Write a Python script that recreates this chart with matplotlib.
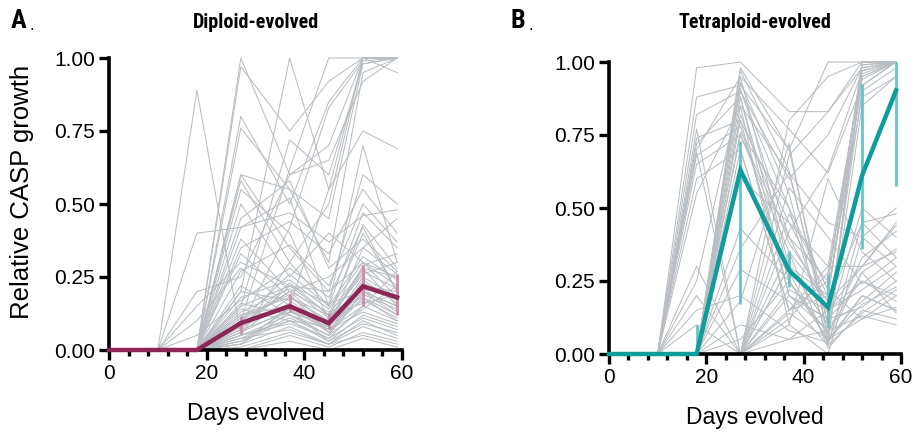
import matplotlib
matplotlib.use("Agg")
import matplotlib.pyplot as plt
from matplotlib.ticker import MultipleLocator, FormatStrFormatter
from matplotlib import font_manager
from matplotlib.font_manager import FontProperties

plt.rcParams['font.family'] = ['Liberation Sans', 'DejaVu Sans']

days = [0, 10, 18, 27, 37, 45, 52, 59]

# ---- Diploid-evolved individual populations ----
diploid_lines = [
    [0, 0, 0.00, 1.00, 0.60, 0.70, 1.00, 1.00],
    [0, 0, 0.00, 0.97, 0.75, 0.92, 1.00, 1.00],
    [0, 0, 0.00, 0.80, 0.50, 0.85, 1.00, 1.00],
    [0, 0, 0.00, 0.76, 0.55, 0.45, 0.98, 1.00],
    [0, 0, 0.00, 0.20, 1.00, 0.55, 0.75, 0.69],
    [0, 0, 0.00, 0.10, 0.62, 1.00, 1.00, 1.00],
    [0, 0, 0.00, 0.05, 0.30, 0.50, 1.00, 0.95],
    [0, 0, 0.00, 0.60, 0.55, 0.30, 0.95, 1.00],
    [0, 0, 0.00, 0.15, 0.72, 0.60, 0.98, 1.00],
    [0, 0, 0.00, 0.02, 0.15, 0.55, 1.00, 1.00],
    [0, 0, 0.00, 0.08, 0.42, 0.83, 0.99, 1.00],
    [0, 0, 0.20, 0.25, 0.60, 0.65, 0.92, 1.00],
    [0, 0, 0.89, 0.05, 0.10, 0.08, 0.20, 0.15],
    [0, 0, 0.40, 0.42, 0.47, 0.37, 0.46, 0.48],
    [0, 0, 0.00, 0.60, 0.35, 0.20, 0.60, 0.50],
    [0, 0, 0.00, 0.58, 0.30, 0.15, 0.47, 0.35],
    [0, 0, 0.00, 0.55, 0.40, 0.10, 0.43, 0.28],
    [0, 0, 0.00, 0.50, 0.25, 0.40, 0.30, 0.25],
    [0, 0, 0.00, 0.42, 0.52, 0.15, 0.70, 0.30],
    [0, 0, 0.00, 0.38, 0.20, 0.25, 0.35, 0.45],
    [0, 0, 0.00, 0.33, 0.18, 0.12, 0.40, 0.20],
    [0, 0, 0.00, 0.45, 0.58, 0.28, 0.38, 0.27],
    [0, 0, 0.00, 0.35, 0.44, 0.33, 0.55, 0.40],
    [0, 0, 0.00, 0.27, 0.36, 0.22, 0.50, 0.37],
    [0, 0, 0.15, 0.30, 0.22, 0.20, 0.30, 0.22],
    [0, 0, 0.10, 0.28, 0.15, 0.10, 0.28, 0.15],
    [0, 0, 0.00, 0.05, 0.12, 0.05, 0.20, 0.15],
    [0, 0, 0.00, 0.08, 0.15, 0.06, 0.18, 0.12],
    [0, 0, 0.00, 0.10, 0.20, 0.08, 0.25, 0.18],
    [0, 0, 0.00, 0.03, 0.10, 0.04, 0.15, 0.10],
    [0, 0, 0.00, 0.12, 0.18, 0.10, 0.22, 0.20],
    [0, 0, 0.00, 0.06, 0.14, 0.03, 0.12, 0.08],
    [0, 0, 0.00, 0.15, 0.22, 0.12, 0.28, 0.25],
    [0, 0, 0.00, 0.02, 0.08, 0.02, 0.10, 0.05],
    [0, 0, 0.00, 0.09, 0.16, 0.07, 0.19, 0.14],
    [0, 0, 0.00, 0.04, 0.11, 0.05, 0.14, 0.22],
    [0, 0, 0.00, 0.18, 0.24, 0.14, 0.30, 0.18],
    [0, 0, 0.00, 0.07, 0.13, 0.09, 0.17, 0.11],
    [0, 0, 0.00, 0.11, 0.19, 0.06, 0.24, 0.16],
    [0, 0, 0.00, 0.01, 0.06, 0.02, 0.08, 0.04],
    [0, 0, 0.00, 0.13, 0.21, 0.11, 0.26, 0.30],
    [0, 0, 0.00, 0.05, 0.09, 0.04, 0.11, 0.07],
    [0, 0, 0.00, 0.20, 0.17, 0.08, 0.21, 0.13],
    [0, 0, 0.00, 0.08, 0.23, 0.12, 0.16, 0.19],
    [0, 0, 0.00, 0.03, 0.14, 0.07, 0.13, 0.09],
    [0, 0, 0.00, 0.16, 0.12, 0.05, 0.23, 0.17],
    [0, 0, 0.00, 0.00, 0.05, 0.01, 0.06, 0.03],
    [0, 0, 0.00, 0.10, 0.26, 0.15, 0.32, 0.24],
    [0, 0, 0.00, 0.06, 0.18, 0.10, 0.27, 0.21],
    [0, 0, 0.00, 0.14, 0.10, 0.03, 0.09, 0.06],
    [0, 0, 0.00, 0.02, 0.13, 0.08, 0.35, 0.26],
    [0, 0, 0.00, 0.09, 0.20, 0.13, 0.18, 0.10],
    [0, 0, 0.00, 0.04, 0.07, 0.02, 0.05, 0.02],
    [0, 0, 0.00, 0.12, 0.15, 0.09, 0.29, 0.33],
    [0, 0, 0.00, 0.07, 0.22, 0.16, 0.20, 0.12],
    [0, 0, 0.00, 0.00, 0.03, 0.00, 0.04, 0.01],
    [0, 0, 0.05, 0.17, 0.28, 0.18, 0.42, 0.20],
    [0, 0, 0.00, 0.22, 0.12, 0.07, 0.15, 0.27],
]
diploid_mean = [0, 0, 0, 0.092, 0.150, 0.092, 0.218, 0.180]
diploid_lo = [0, 0, 0, 0.055, 0.129, 0.072, 0.152, 0.121]
diploid_hi = [0, 0, 0, 0.115, 0.192, 0.126, 0.290, 0.261]

# ---- Tetraploid-evolved individual populations ----
tetraploid_lines = [
    [0, 0, 0.98, 1.00, 0.83, 0.83, 1.00, 1.00],
    [0, 0, 0.88, 0.92, 0.70, 1.00, 1.00, 1.00],
    [0, 0, 0.82, 0.90, 0.60, 0.75, 0.98, 1.00],
    [0, 0, 0.74, 0.80, 0.45, 0.20, 0.95, 1.00],
    [0, 0, 0.70, 0.95, 0.30, 0.10, 0.90, 0.98],
    [0, 0, 0.68, 0.78, 0.25, 0.05, 0.85, 0.95],
    [0, 0, 0.65, 0.75, 0.40, 0.15, 0.30, 0.45],
    [0, 0, 0.72, 0.88, 0.20, 0.08, 0.97, 1.00],
    [0, 0, 0.60, 0.70, 0.15, 0.25, 0.99, 1.00],
    [0, 0, 0.55, 0.85, 0.62, 0.45, 0.40, 0.30],
    [0, 0, 0.25, 0.90, 0.50, 0.05, 0.20, 0.15],
    [0, 0, 0.20, 0.00, 0.30, 0.20, 1.00, 1.00],
    [0, 0, 0.10, 0.00, 0.15, 0.30, 0.96, 1.00],
    [0, 0, 0.00, 0.98, 0.70, 0.10, 0.50, 0.40],
    [0, 0, 0.00, 0.93, 0.55, 0.03, 0.45, 0.33],
    [0, 0, 0.00, 0.80, 0.20, 0.12, 0.25, 0.20],
    [0, 0, 0.00, 0.75, 0.35, 0.02, 0.15, 0.12],
    [0, 0, 0.00, 0.00, 0.80, 0.95, 1.00, 1.00],
    [0, 0, 0.00, 0.00, 0.68, 0.83, 0.98, 1.00],
    [0, 0, 0.00, 0.00, 0.10, 0.60, 0.35, 0.25],
    [0, 0, 0.00, 0.43, 0.25, 0.05, 0.12, 0.16],
    [0, 0, 0.00, 0.36, 0.62, 0.10, 0.18, 0.28],
    [0, 0, 0.00, 0.29, 0.18, 0.03, 0.14, 0.22],
    [0, 0, 0.00, 0.85, 0.10, 0.00, 0.40, 0.50],
    [0, 0, 0.00, 0.60, 0.45, 0.30, 0.30, 0.35],
    [0, 0, 0.00, 0.00, 0.22, 0.15, 0.25, 0.18],
    [0, 0, 0.00, 0.00, 0.05, 0.08, 0.13, 0.10],
    [0, 0, 0.00, 0.70, 0.15, 0.20, 0.94, 1.00],
    [0, 0, 0.00, 0.91, 0.40, 0.25, 0.99, 1.00],
    [0, 0, 0.00, 0.95, 0.77, 0.62, 0.92, 1.00],
    [0, 0, 0.00, 0.88, 0.28, 0.04, 1.00, 1.00],
    [0, 0, 0.00, 0.00, 0.35, 0.18, 0.45, 0.48],
    [0, 0, 0.00, 0.10, 0.05, 0.15, 0.22, 0.30],
    [0, 0, 0.00, 0.76, 0.50, 0.22, 0.88, 0.95],
    [0, 0, 0.00, 0.97, 0.63, 0.07, 0.28, 0.14],
    [0, 0, 0.00, 0.05, 0.25, 0.07, 0.33, 0.42],
    [0, 0, 0.30, 0.00, 0.20, 0.12, 0.16, 0.25],
    [0, 0, 0.15, 0.20, 0.08, 0.04, 0.20, 0.15],
    [0, 0, 0.77, 0.00, 0.12, 0.28, 0.92, 1.00],
    [0, 0, 0.69, 0.00, 0.42, 0.63, 0.97, 1.00],
    [0, 0, 0.00, 0.00, 0.57, 0.40, 0.24, 0.33],
    [0, 0, 0.00, 0.18, 0.72, 0.05, 0.17, 0.23],
    [0, 0, 0.00, 0.82, 0.38, 0.18, 0.30, 0.44],
    [0, 0, 0.00, 0.00, 0.30, 0.10, 0.95, 1.00],
    [0, 0, 0.00, 0.00, 0.48, 0.22, 0.12, 0.20],
    [0, 0, 0.00, 0.00, 0.14, 0.05, 0.28, 0.36],
]
tetraploid_mean = [0, 0, 0, 0.630, 0.286, 0.160, 0.611, 0.903]
tetraploid_lo = [0, 0, 0, 0.170, 0.230, 0.089, 0.360, 0.577]
tetraploid_hi = [0, 0, 0.10, 0.730, 0.354, 0.274, 0.926, 1.000]

titles = ['Diploid-evolved', 'Tetraploid-evolved']
panel_letters = ['A', 'B']
x_ticks = [0, 20, 40, 60]
y_ticks = [0, 0.25, 0.5, 0.75, 1.0]

GREY = '#b9bec3'
MEAN_COLORS = ['#8c2657', '#0e9c9c']
ERR_COLORS = ['#cf8aa8', '#66c6c6']


def condensed_bold():
    names = {f.name for f in font_manager.fontManager.ttflist}
    for fam in ['Liberation Sans Narrow', 'Roboto Condensed', 'Open Sans Condensed',
                'Arial Narrow', 'Noto Sans Condensed']:
        if fam in names:
            return FontProperties(family=fam, weight='bold')
    for fam in ['Roboto', 'Open Sans', 'Noto Sans', 'DejaVu Sans']:
        fp = FontProperties(family=fam, weight='bold', stretch='condensed')
        try:
            path = font_manager.findfont(fp, fallback_to_default=False)
        except Exception:
            continue
        if 'ondensed' in path or 'arrow' in path:
            return FontProperties(fname=path)
    return FontProperties(family='Liberation Sans', weight='bold')


TITLE_FP = condensed_bold()

W, H = 917, 433
fig = plt.figure(figsize=(W / 100, H / 100), dpi=100)
renderer = fig.canvas.get_renderer()


def fit_size(txt, target_w, start):
    t = fig.text(0, 0, txt, fontproperties=TITLE_FP, fontsize=start)
    w = t.get_window_extent(renderer).width
    t.remove()
    return min(start * target_w / w, 17)


title_size = fit_size(titles[0], 127, 14)
letter_size = min(title_size * 1.3, 19)

rects = [(109, 58, 402, 350), (609, 62, 901, 354)]
datasets = [
    (diploid_lines, diploid_mean, diploid_lo, diploid_hi),
    (tetraploid_lines, tetraploid_mean, tetraploid_lo, tetraploid_hi),
]

for i, ((x0, y0, x1, y1), (lines, mean, lo, hi)) in enumerate(zip(rects, datasets)):
    ax = fig.add_axes([x0 / W, 1 - y1 / H, (x1 - x0) / W, (y1 - y0) / H])
    for ln in lines:
        ax.plot(days, ln, color=GREY, lw=0.75, clip_on=False, zorder=1)
    for d, m, l, h in zip(days, mean, lo, hi):
        if h > l:
            ax.plot([d, d], [l, h], color=ERR_COLORS[i], lw=2.0, clip_on=False, zorder=2,
                    solid_capstyle='butt')
    ax.plot(days, mean, color=MEAN_COLORS[i], lw=3.2, clip_on=False, zorder=3,
            solid_joinstyle='miter')
    ax.set_xlim(0, 60)
    ax.set_ylim(0, 1)
    for s in ['top', 'right']:
        ax.spines[s].set_visible(False)
    for s in ['left', 'bottom']:
        ax.spines[s].set_linewidth(2.6)
        ax.spines[s].set_capstyle('projecting')
    ax.set_xticks(x_ticks)
    ax.xaxis.set_minor_locator(MultipleLocator(4))
    ax.set_yticks(y_ticks)
    ax.yaxis.set_major_formatter(FormatStrFormatter('%.2f'))
    ax.tick_params(axis='both', which='major', length=7, width=2.4, labelsize=15, pad=3,
                   direction='out', colors='black')
    ax.tick_params(axis='x', which='minor', length=4.5, width=2.4, direction='out')
    ax.set_xlabel('Days evolved', fontsize=16.5, labelpad=14)
    cx = (x0 + x1) / 2 / W
    fig.text(cx, 1 - 22 / H, titles[i], ha='center', va='center', fontsize=title_size,
             fontproperties=TITLE_FP)
    lx = [11, 511][i]
    fig.text(lx / W, 1 - 21 / H, panel_letters[i], ha='left', va='center',
             fontsize=letter_size, fontproperties=TITLE_FP)
    fig.text((lx + 18) / W, 1 - 25 / H, '.', ha='left', va='center', fontsize=12)

fig.text(22 / W, 1 - 192 / H, 'Relative CASP growth', rotation=90, ha='center',
         va='center', fontsize=18.5)

fig.savefig('out.png', dpi=100)
